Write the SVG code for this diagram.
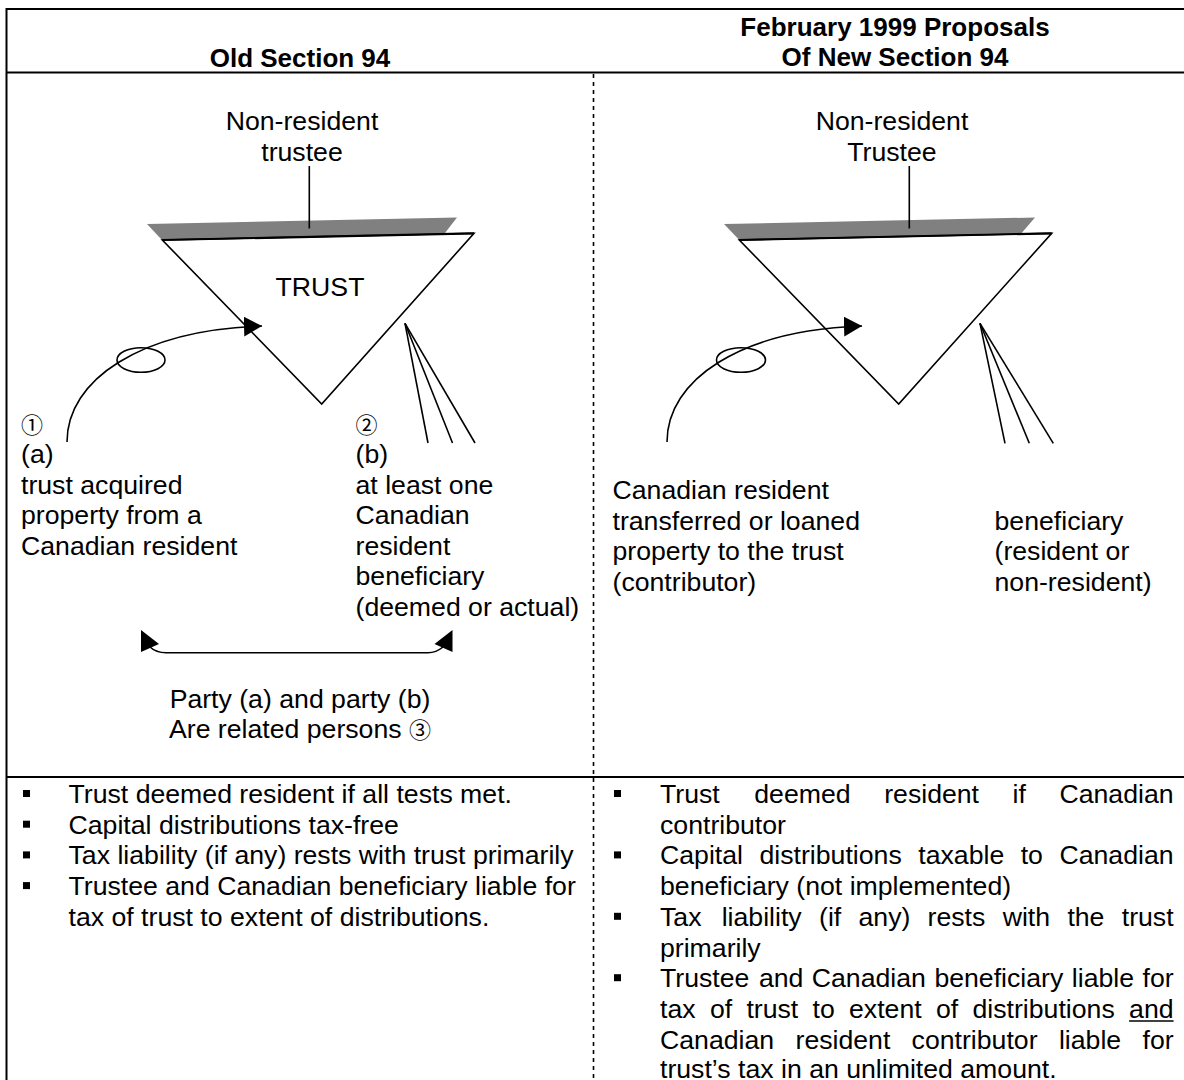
<svg xmlns="http://www.w3.org/2000/svg" width="1184" height="1080" viewBox="0 0 1184 1080">
<defs>
<style>
.t{font-family:"Liberation Sans",Arial,sans-serif;font-size:26.67px;fill:#000}
.b{font-weight:bold;font-size:26px}
.m{text-anchor:middle}
.e{text-anchor:end}
.c{font-family:"Noto Sans CJK JP","DejaVu Sans",sans-serif;font-size:22px}
.ln{stroke:#000;stroke-width:1.6;fill:none}
.frame{stroke:#000;stroke-width:2;fill:none}
.dash{stroke:#000;stroke-width:1.6;stroke-dasharray:4 4;fill:none}
.tri{fill:#fff;stroke:#000;stroke-width:1.6}
.shade{fill:#808080}
.bul{fill:#000}
</style>
<marker id="ah" markerUnits="userSpaceOnUse" markerWidth="20" markerHeight="20" refX="18" refY="10" orient="auto">
<path d="M0,0 L18,10 L0,20 z" fill="#000"/>
</marker>
</defs>
<rect width="1184" height="1080" fill="#fff"/>

<g id="table">
<line class="frame" x1="6.5" y1="9" x2="1184" y2="9"/>
<line class="frame" x1="6.5" y1="8" x2="6.5" y2="1080"/>
<line class="frame" x1="6.5" y1="72.5" x2="1184" y2="72.5"/>
<line class="frame" x1="6.5" y1="777" x2="1184" y2="777"/>
<line class="dash" x1="593.5" y1="74" x2="593.5" y2="1080"/>
</g>

<g id="header-old">
<text class="t b m" x="300" y="66.5">Old Section 94</text>
</g>
<g id="header-new">
<text class="t b m" x="895" y="36">February 1999 Proposals</text>
<text class="t b m" x="895" y="66">Of New Section 94</text>
</g>

<g id="trustee-old">
<text class="t m" x="302" y="130">Non-resident</text>
<text class="t m" x="302" y="161">trustee</text>
</g>
<g id="trust-old">
<polygon class="shade" points="147,224 457,217.5 445,233 162,240"/>
<polygon class="tri" points="162.3,240 474,233.3 321.7,404"/>
<line x1="162.3" y1="240" x2="474" y2="233.3" stroke="#000" stroke-width="2.2"/>
<text class="t m" x="320" y="296">TRUST</text>
</g>
<g id="party-a">
<text class="c" x="21" y="433">①</text>
<text class="t" x="21" y="463">(a)</text>
<text class="t" x="21" y="493.5">trust acquired</text>
<text class="t" x="21" y="524">property from a</text>
<text class="t" x="21" y="555">Canadian resident</text>
<ellipse class="ln" cx="141" cy="360" rx="24" ry="12.3"/>
</g>
<g id="party-b">
<text class="c" x="355.5" y="433">②</text>
<text class="t" x="355.5" y="463">(b)</text>
<text class="t" x="355.5" y="493.5">at least one</text>
<text class="t" x="355.5" y="524">Canadian</text>
<text class="t" x="355.5" y="555">resident</text>
<text class="t" x="355.5" y="585">beneficiary</text>
<text class="t" x="355.5" y="616">(deemed or actual)</text>
</g>
<g id="related-note">
<text class="t m" x="300" y="708">Party (a) and party (b)</text>
<text class="t m" x="300" y="738">Are related persons <tspan class="c">③</tspan></text>
</g>

<g id="trustee-new">
<text class="t m" x="892" y="130">Non-resident</text>
<text class="t m" x="892" y="161">Trustee</text>
</g>
<g id="trust-new">
<polygon class="shade" points="724,224 1035,217.5 1021.7,233 739.3,240"/>
<polygon class="tri" points="739.3,240 1051.7,233.3 898.7,404"/>
<line x1="739.3" y1="240" x2="1051.7" y2="233.3" stroke="#000" stroke-width="2.2"/>
</g>
<g id="contributor">
<text class="t" x="612.5" y="499">Canadian resident</text>
<text class="t" x="612.5" y="529.7">transferred or loaned</text>
<text class="t" x="612.5" y="560.4">property to the trust</text>
<text class="t" x="612.5" y="591">(contributor)</text>
<ellipse class="ln" cx="741" cy="360" rx="24.5" ry="12.3"/>
</g>
<g id="beneficiary-new">
<text class="t" x="994.5" y="529.7">beneficiary</text>
<text class="t" x="994.5" y="560.4">(resident or</text>
<text class="t" x="994.5" y="591">non-resident)</text>
</g>

<g id="connectors">
<line class="ln" x1="309.3" y1="166" x2="309.3" y2="228.5"/>
<line class="ln" x1="909.3" y1="166" x2="909.3" y2="228.5"/>
<path class="ln" d="M67,442 C67,380 140,330 262,326" marker-end="url(#ah)"/>
<path class="ln" d="M667,442 C667,380 740,330 862,326" marker-end="url(#ah)"/>
<line class="ln" x1="405" y1="323.3" x2="428" y2="443"/>
<line class="ln" x1="405" y1="323.3" x2="452.5" y2="443"/>
<line class="ln" x1="405" y1="323.3" x2="475" y2="443"/>
<line class="ln" x1="980" y1="323.3" x2="1005" y2="443.3"/>
<line class="ln" x1="980" y1="323.3" x2="1029.3" y2="443.3"/>
<line class="ln" x1="980" y1="323.3" x2="1053.3" y2="443.3"/>
<path class="ln" d="M150,647 Q156,652.7 166,652.7 L428,652.7 Q436,652.7 443,647"/>
<polygon points="141,630 159,644 141,652" fill="#000"/>
<polygon points="452.5,630 434.5,644 452.5,652" fill="#000"/>
</g>

<g id="notes-old">
<rect class="bul" x="23" y="790" width="7" height="7"/>
<rect class="bul" x="23" y="820.7" width="7" height="7"/>
<rect class="bul" x="23" y="851.4" width="7" height="7"/>
<rect class="bul" x="23" y="882.1" width="7" height="7"/>
<text class="t" x="68.5" y="803">Trust deemed resident if all tests met.</text>
<text class="t" x="68.5" y="833.7">Capital distributions tax-free</text>
<text class="t" x="68.5" y="864.4">Tax liability (if any) rests with trust primarily</text>
<text class="t" x="68.5" y="895.1">Trustee and Canadian beneficiary liable for</text>
<text class="t" x="68.5" y="925.8">tax of trust to extent of distributions.</text>
</g>

<g id="notes-new">
<rect class="bul" x="614" y="790" width="7" height="7"/>
<rect class="bul" x="614" y="851.4" width="7" height="7"/>
<rect class="bul" x="614" y="912.8" width="7" height="7"/>
<rect class="bul" x="614" y="974.2" width="7" height="7"/>
<text class="t" y="803"><tspan x="660">Trust </tspan><tspan x="754.3">deemed </tspan><tspan x="884.2">resident </tspan><tspan x="1012.6">if </tspan><tspan x="1173.6" class="e">Canadian</tspan></text>
<text class="t" x="660" y="833.7">contributor</text>
<text class="t" y="864.4"><tspan x="660">Capital </tspan><tspan x="759.5">distributions </tspan><tspan x="918.3">taxable </tspan><tspan x="1020.7">to </tspan><tspan x="1173.6" class="e">Canadian</tspan></text>
<text class="t" x="660" y="895.1">beneficiary (not implemented)</text>
<text class="t" y="925.8"><tspan x="660">Tax </tspan><tspan x="721.7">liability </tspan><tspan x="819">(if </tspan><tspan x="858.5">any) </tspan><tspan x="927.6">rests </tspan><tspan x="1002.7">with </tspan><tspan x="1067.4">the </tspan><tspan x="1173.6" class="e">trust</tspan></text>
<text class="t" x="660" y="956.5">primarily</text>
<text class="t" y="987.2"><tspan x="660">Trustee </tspan><tspan x="758.9">and </tspan><tspan x="811.8">Canadian </tspan><tspan x="934.4">beneficiary </tspan><tspan x="1071.8">liable </tspan><tspan x="1173.6" class="e">for</tspan></text>
<text class="t" y="1017.9"><tspan x="660">tax </tspan><tspan x="709.9">of </tspan><tspan x="746.4">trust </tspan><tspan x="812.5">to </tspan><tspan x="849">extent </tspan><tspan x="936">of </tspan><tspan x="972.5">distributions </tspan><tspan x="1173.6" class="e">and</tspan></text>
<line x1="1129.1" y1="1021" x2="1173.6" y2="1021" stroke="#000" stroke-width="1.6"/>
<text class="t" y="1048.6"><tspan x="660">Canadian </tspan><tspan x="795.5">resident </tspan><tspan x="911.6">contributor </tspan><tspan x="1058.9">liable </tspan><tspan x="1173.6" class="e">for</tspan></text>
<text class="t" x="660" y="1078">trust’s tax in an unlimited amount.</text>
</g>
</svg>
